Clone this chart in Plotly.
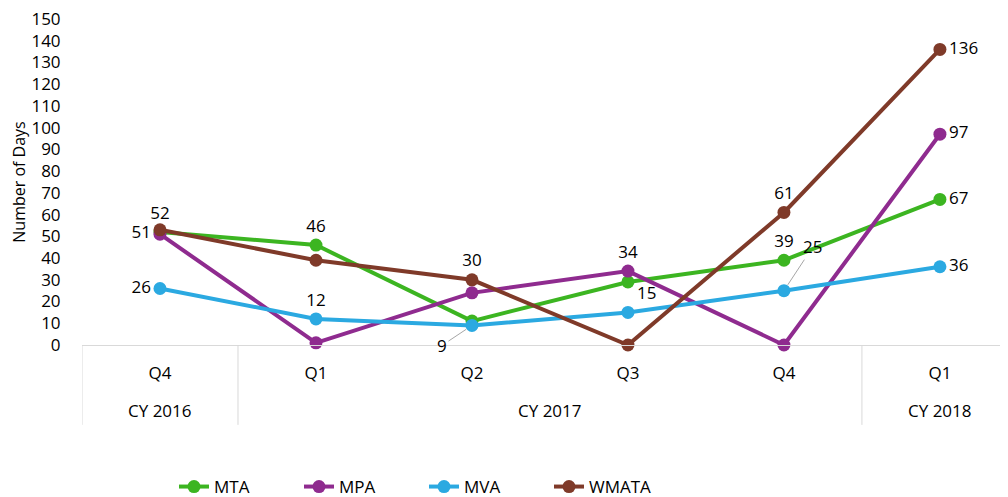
import plotly.graph_objects as go

quarters = ["Q4", "Q1", "Q2", "Q3", "Q4", "Q1"]
years = ["CY 2016", "CY 2017", "CY 2018"]
year_center = [0, 2.5, 5]          # category index at the centre of each year group
year_bounds = [-0.5, 0.5, 4.5]     # category boundaries between year groups
y_ticks = list(range(0, 151, 10))

mta = [52, 46, 11, 29, 39, 67]
mpa = [51, 1, 24, 34, 0, 97]
mva = [26, 12, 9, 15, 25, 36]
wmata = [53, 39, 30, 0, 61, 136]

# which points show a data label, and where
mta_lbl = ["52", "46", "", "", "39", "67"]
mpa_lbl = ["51", "", "", "34", "", "97"]
mva_lbl = ["26", "12", "", "15", "", "36"]
wmata_lbl = ["", "", "30", "", "61", "136"]

mta_pos = ["top center", "top center", "top center", "top center", "top center", "middle right"]
mpa_pos = ["middle left", "top center", "top center", "top center", "top center", "middle right"]
mva_pos = ["middle left", "top center", "top center", "top right", "top center", "middle right"]
wmata_pos = ["top center", "top center", "top center", "top center", "top center", "middle right"]

series = [
    ("MTA", mta, mta_lbl, mta_pos, "#3CB521"),
    ("MPA", mpa, mpa_lbl, mpa_pos, "#8F2B8F"),
    ("MVA", mva, mva_lbl, mva_pos, "#2BA9E1"),
    ("WMATA", wmata, wmata_lbl, wmata_pos, "#7F3A29"),
]

FONT = "Open Sans"
FS = 17
xi = list(range(len(quarters)))

fig = go.Figure()
for name, vals, lbl, pos, col in series:
    fig.add_trace(go.Scatter(
        x=xi, y=vals, name=name, mode="lines+markers+text",
        text=lbl, textposition=pos,
        textfont=dict(family=FONT, size=FS, color="#000000"),
        line=dict(color=col, width=4),
        marker=dict(color=col, size=13),
        cliponaxis=False,
    ))

# leader-line labels
fig.add_annotation(x=2, y=mva[2], text=str(mva[2]), showarrow=True, arrowhead=0,
                   arrowcolor="#A6A6A6", arrowwidth=1, ax=-30, ay=20, standoff=7,
                   font=dict(family=FONT, size=FS, color="#000000"))
fig.add_annotation(x=4, y=mva[4], text=str(mva[4]), showarrow=True, arrowhead=0,
                   arrowcolor="#A6A6A6", arrowwidth=1, ax=29, ay=-44, standoff=7,
                   font=dict(family=FONT, size=FS, color="#000000"))

# year group labels and dividers
for yr, c in zip(years, year_center):
    fig.add_annotation(x=c, y=-0.2, xref="x", yref="paper", text=yr, showarrow=False,
                       yanchor="middle", font=dict(family=FONT, size=FS, color="#000000"))
for b in year_bounds:
    fig.add_shape(type="line", xref="x", yref="paper", x0=b, x1=b, y0=0, y1=-0.245,
                  line=dict(color="#D9D9D9", width=1))
fig.add_shape(type="line", xref="paper", yref="paper", x0=1, x1=1, y0=0, y1=-0.245,
              line=dict(color="#D9D9D9", width=1))

fig.update_layout(
    width=1008, height=497,
    margin=dict(l=74, r=9, t=11, b=160, autoexpand=False),
    paper_bgcolor="white", plot_bgcolor="white",
    font=dict(family=FONT, size=FS, color="#000000"),
    showlegend=True,
    legend=dict(orientation="h", xref="container", yref="container",
                x=166 / 1008, xanchor="left", y=18 / 497, yanchor="middle",
                entrywidth=80, entrywidthmode="pixels", itemwidth=30,
                font=dict(family=FONT, size=FS, color="#000000")),
)
fig.update_xaxes(
    range=[-0.5, 5.43], tickvals=xi, ticktext=quarters,
    showline=True, linecolor="#D9D9D9", linewidth=1,
    showgrid=False, zeroline=False,
    ticks="outside", ticklen=13, tickcolor="rgba(0,0,0,0)",
    tickfont=dict(family=FONT, size=FS, color="#000000"),
)
fig.update_yaxes(
    range=[0, 150], tickvals=y_ticks, showgrid=False, zeroline=False, showline=False,
    ticks="outside", ticklen=17, tickcolor="rgba(0,0,0,0)", automargin=False,
    ticklabeloverflow="allow",
    title=dict(text="Number of Days", font=dict(family=FONT, size=16), standoff=11),
    tickfont=dict(family=FONT, size=FS, color="#000000"),
)

fig.write_html("out.html")
